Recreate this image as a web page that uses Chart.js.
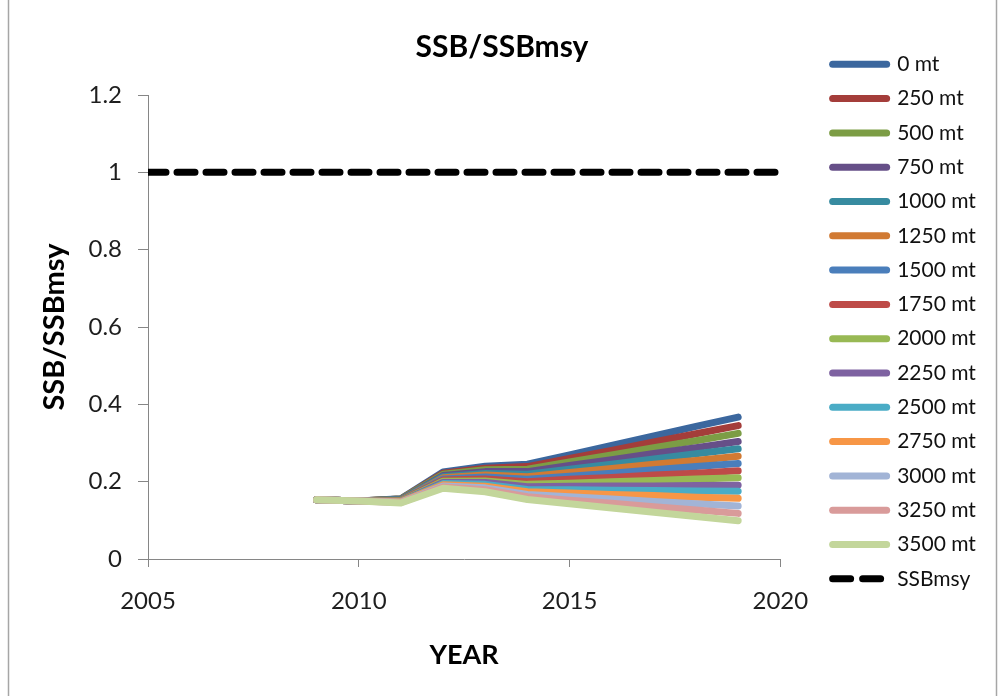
<!DOCTYPE html>
<html>
<head>
<meta charset="utf-8">
<title>SSB/SSBmsy</title>
<script src="https://cdn.jsdelivr.net/npm/chart.js@4/dist/chart.umd.min.js"></script>
<style>
  html, body { margin: 0; padding: 0; background: #ffffff; }
  #wrap { position: relative; width: 1000px; height: 696px; }
</style>
</head>
<body>
<div id="wrap"><canvas id="chart" width="1000" height="696"></canvas></div>
<script>
// Projection years
const years = [2009, 2010, 2011, 2012, 2013, 2014, 2015, 2016, 2017, 2018, 2019];

// SSB/SSBmsy under each constant catch scenario
const catch0 =    [0.153, 0.150, 0.156, 0.225, 0.240, 0.245, 0.269, 0.294, 0.318, 0.343, 0.367];
const catch250 =  [0.153, 0.150, 0.155, 0.222, 0.235, 0.239, 0.260, 0.281, 0.303, 0.324, 0.345];
const catch500 =  [0.153, 0.150, 0.155, 0.219, 0.231, 0.232, 0.251, 0.269, 0.288, 0.306, 0.325];
const catch750 =  [0.153, 0.150, 0.154, 0.216, 0.226, 0.226, 0.242, 0.257, 0.273, 0.288, 0.304];
const catch1000 = [0.153, 0.150, 0.153, 0.213, 0.221, 0.219, 0.232, 0.245, 0.259, 0.272, 0.285];
const catch1250 = [0.153, 0.150, 0.152, 0.210, 0.217, 0.213, 0.224, 0.234, 0.245, 0.255, 0.266];
const catch1500 = [0.153, 0.150, 0.151, 0.207, 0.212, 0.206, 0.214, 0.222, 0.231, 0.239, 0.247];
const catch1750 = [0.153, 0.150, 0.151, 0.204, 0.207, 0.200, 0.206, 0.211, 0.217, 0.222, 0.228];
const catch2000 = [0.153, 0.150, 0.150, 0.201, 0.202, 0.193, 0.196, 0.200, 0.203, 0.207, 0.210];
const catch2250 = [0.153, 0.150, 0.149, 0.198, 0.198, 0.187, 0.188, 0.189, 0.189, 0.190, 0.191];
const catch2500 = [0.153, 0.150, 0.148, 0.195, 0.193, 0.180, 0.179, 0.178, 0.177, 0.176, 0.175];
const catch2750 = [0.153, 0.150, 0.148, 0.192, 0.188, 0.174, 0.171, 0.167, 0.164, 0.160, 0.157];
const catch3000 = [0.153, 0.150, 0.147, 0.189, 0.184, 0.167, 0.161, 0.155, 0.149, 0.143, 0.137];
const catch3250 = [0.153, 0.150, 0.146, 0.186, 0.179, 0.161, 0.152, 0.144, 0.135, 0.127, 0.118];
const catch3500 = [0.153, 0.150, 0.145, 0.183, 0.174, 0.154, 0.143, 0.132, 0.121, 0.110, 0.099];

const seriesLabels = ['0 mt', '250 mt', '500 mt', '750 mt', '1000 mt', '1250 mt', '1500 mt',
  '1750 mt', '2000 mt', '2250 mt', '2500 mt', '2750 mt', '3000 mt', '3250 mt', '3500 mt'];
const seriesValues = [catch0, catch250, catch500, catch750, catch1000, catch1250, catch1500,
  catch1750, catch2000, catch2250, catch2500, catch2750, catch3000, catch3250, catch3500];

// Reference level (SSB = SSBmsy) across the axis range
const msyYears = [2005, 2020];
const msyValues = [1, 1];

// Axis ticks
const xTickValues = [2005, 2010, 2015, 2020];
const yTickValues = [0, 0.2, 0.4, 0.6, 0.8, 1, 1.2];
const yTickLabels = ['0', '0.2', '0.4', '0.6', '0.8', '1', '1.2'];

const seriesColors = ['#3B679E', '#A43D3A', '#7C9D45', '#664F88', '#378BA0', '#D17A33',
  '#4A7EBB', '#BE4B48', '#98B954', '#7E62A1', '#4AACC6', '#F79646', '#A2B4D6', '#D99B9A', '#C3D69B'];

const FONT = 'Lato, "Open Sans", sans-serif';
const AXIS_GREY = '#868686';

const datasets = seriesLabels.map((label, i) => ({
  label,
  data: years.map((yr, k) => ({ x: yr, y: seriesValues[i][k] })),
  borderColor: seriesColors[i],
  backgroundColor: seriesColors[i],
  borderWidth: 7,
  borderCapStyle: 'round',
  borderJoinStyle: 'round',
  pointRadius: 0,
  tension: 0,
  fill: false,
  // later scenarios are painted over earlier ones
  order: seriesLabels.length - i
}));

datasets.push({
  label: 'SSBmsy',
  data: msyYears.map((yr, k) => ({ x: yr, y: msyValues[k] })),
  borderColor: '#000000',
  backgroundColor: '#000000',
  borderWidth: 7,
  borderDash: [18, 11],
  borderCapStyle: 'round',
  borderJoinStyle: 'round',
  pointRadius: 0,
  tension: 0,
  fill: false,
  order: 0
});

// Thin grey frame around the whole figure
const framePlugin = {
  id: 'frame',
  beforeDraw(chart) {
    const ctx = chart.ctx;
    ctx.save();
    ctx.strokeStyle = '#A6A6A6';
    ctx.lineWidth = 1.5;
    ctx.strokeRect(8.5, -10, 988, 730);
    ctx.restore();
  }
};

new Chart(document.getElementById('chart'), {
  type: 'line',
  data: { datasets },
  plugins: [framePlugin],
  options: {
    responsive: false,
    animation: false,
    events: [],
    layout: { padding: { left: 26, right: 22, top: 0, bottom: 0 } },
    plugins: {
      tooltip: { enabled: false },
      title: {
        display: true,
        text: 'SSB/SSBmsy',
        color: '#000000',
        font: { family: FONT, size: 30, weight: 'bold', lineHeight: 1.2 },
        padding: { top: 29, bottom: 30 }
      },
      legend: {
        display: true,
        position: 'right',
        align: 'start',
        title: { display: true, text: '', padding: { top: 28.5, bottom: 0 }, font: { size: 10, lineHeight: 1.2 } },
        labels: {
          usePointStyle: true,
          pointStyle: 'line',
          pointStyleWidth: 54,
          padding: 13.3,
          color: '#111111',
          font: { family: FONT, size: 21 },
          generateLabels(chart) {
            return chart.data.datasets.map((ds, i) => ({
              text: ds.label,
              fillStyle: ds.borderColor,
              strokeStyle: ds.borderColor,
              fontColor: '#111111',
              lineWidth: 7,
              lineCap: 'round',
              lineJoin: 'round',
              lineDash: ds.borderDash ? [18, 12] : [],
              pointStyle: 'line',
              hidden: false,
              datasetIndex: i
            }));
          }
        }
      }
    },
    scales: {
      x: {
        type: 'linear',
        min: 2005,
        max: 2020,
        afterBuildTicks(scale) { scale.ticks = xTickValues.map(v => ({ value: v })); },
        afterFit(scale) { scale.height = 137; },
        grid: { display: true, drawOnChartArea: false, drawTicks: true, tickLength: 8, color: AXIS_GREY },
        border: { display: true, color: AXIS_GREY, width: 1 },
        ticks: {
          color: '#1e1e1e',
          font: { family: FONT, size: 24 },
          padding: 20,
          maxRotation: 0,
          callback: (v) => String(v)
        },
        title: {
          display: true,
          text: 'YEAR',
          color: '#000000',
          font: { family: FONT, size: 27, weight: 'bold', lineHeight: 1.2 },
          padding: { top: 0, bottom: 25 }
        }
      },
      y: {
        type: 'linear',
        min: 0,
        max: 1.2,
        afterBuildTicks(scale) { scale.ticks = yTickValues.map(v => ({ value: v })); },
        afterFit(scale) { scale.width = 122; },
        grid: { display: true, drawOnChartArea: false, drawTicks: true, tickLength: 10, color: AXIS_GREY },
        border: { display: true, color: AXIS_GREY, width: 1 },
        ticks: {
          color: '#1e1e1e',
          font: { family: FONT, size: 24 },
          padding: 16,
          callback: (v, i) => yTickLabels[i]
        },
        title: {
          display: true,
          text: 'SSB/SSBmsy',
          color: '#000000',
          font: { family: FONT, size: 29, weight: 'bold', lineHeight: 1.2 },
          padding: { top: 11.5, bottom: 0 }
        }
      },
      // empty strip separating the plot from the legend
      yGap: {
        type: 'linear',
        axis: 'y',
        position: 'right',
        display: true,
        grid: { display: false, drawTicks: false },
        border: { display: false },
        ticks: { display: false },
        afterFit(scale) { scale.width = 39; }
      }
    }
  }
});
</script>
</body>
</html>
